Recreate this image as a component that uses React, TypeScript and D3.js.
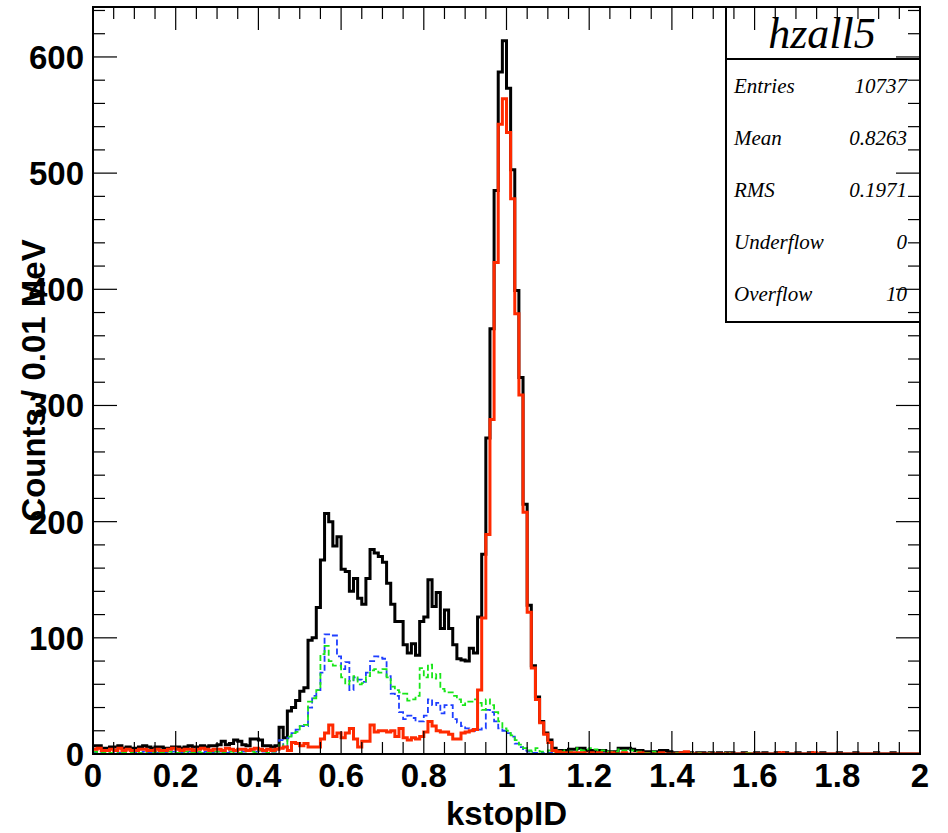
import React from "react";
import * as d3 from "d3";

// ---- data: 200 bins of 0.01 from 0 to 2 ----
const X_MIN = 0;
const X_MAX = 2;
const Y_MAX = 643;

const totalCounts = [
  7,7,5,5,6,6,7,5,6,5, 5,6,7,6,5,6,6,5,5,6, 6,5,6,7,6,6,7,6,7,7,
  8,11,8,9,12,11,8,7,13,13,12,7,7,6,7,
  23,14,37,40,46,54,57,98,100,126,167,207,200,179,187,
  159,157,140,151,134,129,151,176,173,170,165,147,129,114,114,
  94,87,95,85,114,118,150,127,139,108,124,108,94,82,81,
  80,91,87,118,172,272,366,485,587,614,573,503,399,324,215,
  128,76,49,28,18,12,5,
  3,3,3,4,4,5,5,3,3,2, 3,3,2,2,2,5,5,5,4,3, 3,2,2,2,2,3,3,2,1,1,
  1,1,1,0,1,1,0,1,0,1, 0,1,1,0,0,1,0,0,1,0, 1,0,0,1,0,1,0,0,1,0,
  0,1,0,0,1,0,0,0,1,0, 0,0,1,0,0,0,0,1,0,0, 0,1,0,0,0,0,0,0,
];

const signalCounts = [
  4,5,3,3,4,3,5,3,4,3, 3,4,4,3,3,4,3,3,4,5, 4,3,4,4,3,4,5,4,3,4,
  4,3,5,4,3,4,4,3,4,5, 4,3,4,3,4,
  5,6,3,10,9,7,9,6,6,6,13,18,25,15,18,
  14,18,22,13,6,11,11,25,19,20,20,19,20,15,22,
  14,12,14,13,15,19,28,24,20,19,19,17,13,13,18,
  19,20,21,55,117,189,288,423,542,564,535,478,379,309,208,
  122,74,47,27,17,10,3,
  2,1,1,1,1,1,1,0,1,0, 1,0,0,1,0,0,1,0,0,0, 1,0,0,0,0,1,0,0,0,0,
  1,2,0,0,0,0,0,0,0,0, 0,0,0,0,0,0,0,0,0,0, 0,0,0,0,1,0,0,0,0,0,
  0,0,1,0,0,0,0,0,0,0, 0,0,0,0,0,0,0,0,0,0, 0,0,0,0,0,0,0,0,
];

const greenCounts = [
  2,1,1,2,1,0,2,1,1,1, 2,1,1,0,1,2,1,1,2,1, 1,1,2,1,1,2,1,1,1,2,
  2,1,2,2,1,1,2,3,2,1, 3,2,1,2,3,
  8,6,15,18,19,24,25,45,48,55,86,93,80,76,76,
  66,60,63,67,60,61,67,72,73,70,73,66,58,55,53,
  52,46,47,50,74,66,77,65,69,56,54,53,50,47,42,
  45,45,47,44,38,47,42,36,28,22,20,16,12,8,5,
  3,2,5,2,2,3,2,
  3,2,3,2,2,5,3,4,5,4, 2,3,2,2,2,4,3,4,3,2, 2,1,1,2,1,1,1,0,1,1,
  1,0,1,0,1,0,0,1,0,0, 0,1,0,0,0,0,1,0,0,0, 0,0,0,0,1,0,0,0,0,0,
  0,0,0,0,0,0,0,0,0,0, 0,0,0,0,0,0,0,0,0,0, 0,0,0,0,0,0,0,0,
];

const blueCounts = [
  1,2,1,1,1,2,1,1,0,1, 1,1,2,1,1,1,0,1,1,2, 1,1,1,2,1,1,1,2,1,1,
  2,2,1,2,2,3,2,3,3,2, 3,2,2,2,2,
  12,4,14,18,21,24,24,40,50,55,70,103,103,102,84,
  73,79,55,66,64,62,70,80,84,83,82,67,52,50,36,
  30,33,31,28,28,33,47,42,44,35,42,42,30,27,24,
  22,21,20,21,22,38,36,28,22,20,18,15,9,6,3,
  2,1,1,1,0,1,0,
  1,0,1,0,0,1,0,0,1,0, 0,1,0,0,0,0,1,0,0,0, 0,0,1,0,0,0,0,0,0,0,
  0,0,0,0,0,0,0,0,0,0, 0,0,0,0,0,0,0,0,0,0, 0,0,0,0,0,0,0,0,0,0,
  0,0,0,0,0,0,0,0,0,0, 0,0,0,0,0,0,0,0,0,0, 0,0,0,0,0,0,0,0,
];

const xTickLabels = ["0", "0.2", "0.4", "0.6", "0.8", "1", "1.2", "1.4", "1.6", "1.8", "2"];
const yTickLabels = ["0", "100", "200", "300", "400", "500", "600"];

const statsTitle = "hzall5";
const statsNames = ["Entries", "Mean", "RMS", "Underflow", "Overflow"];
const statsValues = ["10737", "0.8263", "0.1971", "0", "10"];

const xTitle = "kstopID";
const yTitle = "Counts / 0.01 MeV";

// ---- layout ----
const W = 948;
const H = 833;
const L = 93, R = 920, T = 7, B = 754;

const SANS = "'Liberation Sans', Arial, Helvetica, sans-serif";
const SERIF = "'Liberation Serif', 'Times New Roman', serif";

export default function App() {
  const x = d3.scaleLinear().domain([X_MIN, X_MAX]).range([L, R]);
  const y = d3.scaleLinear().domain([0, Y_MAX]).range([B, T]);
  const nBins = totalCounts.length;
  const bw = (X_MAX - X_MIN) / nBins;

  const stepPath = (vals: number[]) => {
    const pts: [number, number][] = vals.map((v, i) => [X_MIN + i * bw, v]);
    pts.push([X_MAX, vals[vals.length - 1]]);
    return d3
      .line<[number, number]>()
      .x((d) => x(d[0]))
      .y((d) => y(d[1]))
      .curve(d3.curveStepAfter)(pts) as string;
  };

  const xMajor = d3.range(0, 11).map((i) => i * 0.2);
  const xMinor = d3.range(0, 41).map((i) => i * 0.05);
  const yMajor = d3.range(0, 7).map((i) => i * 100);
  const yMinor = d3.range(0, 33).map((i) => i * 20).filter((v) => v <= Y_MAX);

  const tickW = 1.2;
  const rowY = [93, 145, 197, 249, 301];

  return (
    <svg
      width={W}
      height={H}
      style={{ position: "fixed", left: 0, top: 0, background: "#fff", display: "block" }}
    >
      <defs>
        <clipPath id="plotClip">
          <rect x={L} y={T} width={R - L} height={B - T} />
        </clipPath>
      </defs>
      <rect x={0} y={0} width={W} height={H} fill="#fff" />

      {/* histograms */}
      <g clipPath="url(#plotClip)" fill="none" strokeLinejoin="miter">
        <path d={stepPath(totalCounts)} stroke="#000" strokeWidth={3} />
        <path d={stepPath(blueCounts)} stroke="#1f3fff" strokeWidth={1.8} strokeDasharray="6,3" />
        <path d={stepPath(greenCounts)} stroke="#19e619" strokeWidth={1.8} strokeDasharray="6,3" />
        <path d={stepPath(signalCounts)} stroke="#ff2a00" strokeWidth={3} />
      </g>

      {/* stats box */}
      <rect x={726} y={T} width={R - 726} height={322 - T} fill="#fff" stroke="#000" strokeWidth={2} />
      <line x1={726} x2={R} y1={59} y2={59} stroke="#000" strokeWidth={2} />
      <text x={822} y={48} textAnchor="middle" fontFamily={SERIF} fontStyle="italic" fontSize={44}>
        {statsTitle}
      </text>
      {statsNames.map((n, i) => (
        <g key={n}>
          <text x={734} y={rowY[i]} fontFamily={SERIF} fontStyle="italic" fontSize={21}>
            {n}
          </text>
          <text x={907} y={rowY[i]} textAnchor="end" fontFamily={SERIF} fontStyle="italic" fontSize={21}>
            {statsValues[i]}
          </text>
        </g>
      ))}

      {/* ticks */}
      <g stroke="#000" strokeWidth={tickW}>
        {xMinor.map((v, i) => {
          const len = i % 4 === 0 ? 23 : 12;
          return (
            <g key={"xt" + i}>
              <line x1={x(v)} x2={x(v)} y1={B} y2={B - len} />
              <line x1={x(v)} x2={x(v)} y1={T} y2={T + len} />
            </g>
          );
        })}
        {yMinor.map((v, i) => {
          const len = v % 100 === 0 ? 24 : 12;
          return (
            <g key={"yt" + i}>
              <line x1={L} x2={L + len} y1={y(v)} y2={y(v)} />
              <line x1={R} x2={R - len} y1={y(v)} y2={y(v)} />
            </g>
          );
        })}
      </g>

      {/* frame */}
      <rect x={L} y={T} width={R - L} height={B - T} fill="none" stroke="#000" strokeWidth={2} />

      {/* tick labels */}
      {xMajor.map((v, i) => (
        <text key={"xl" + i} x={x(v)} y={787} textAnchor="middle" fontFamily={SANS} fontWeight="bold" fontSize={33}>
          {xTickLabels[i]}
        </text>
      ))}
      {yMajor.map((v, i) => (
        <text key={"yl" + i} x={84} y={y(v) + 12} textAnchor="end" fontFamily={SANS} fontWeight="bold" fontSize={33}>
          {yTickLabels[i]}
        </text>
      ))}

      {/* axis titles */}
      <text x={(L + R) / 2} y={825} textAnchor="middle" fontFamily={SANS} fontWeight="bold" fontSize={33}>
        {xTitle}
      </text>
      <text
        transform={`translate(45, ${(T + B) / 2}) rotate(-90)`}
        textAnchor="middle"
        fontFamily={SANS}
        fontWeight="bold"
        fontSize={33}
      >
        {yTitle}
      </text>
    </svg>
  );
}
